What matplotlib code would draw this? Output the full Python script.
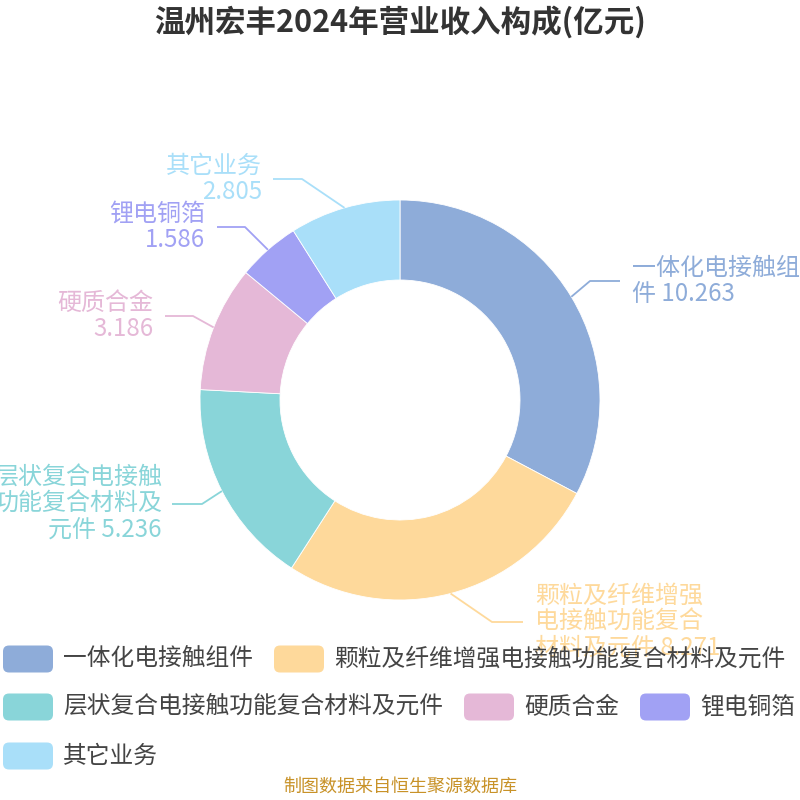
import matplotlib
matplotlib.use("Agg")
import matplotlib.pyplot as plt
from matplotlib.patches import FancyBboxPatch
import numpy as np

plt.rcParams['font.family'] = ['Noto Sans CJK SC', 'DejaVu Sans']

title = "温州宏丰2024年营业收入构成(亿元)"
source = "制图数据来自恒生聚源数据库"
categories = ["一体化电接触组件", "颗粒及纤维增强电接触功能复合材料及元件",
              "层状复合电接触功能复合材料及元件", "硬质合金", "锂电铜箔", "其它业务"]
values = [10.263, 8.271, 5.236, 3.186, 1.586, 2.805]
colors = ["#8EACD9", "#FED99B", "#89D5D9", "#E5B8D7", "#A1A1F4", "#A9DFF9"]

# label layout (pixel coords, y measured from top): elbow point, line end x, text anchor x, side
label_layout = [
    ((590, 281), 620, 632, 'left'),
    ((492, 622), 523, 535, 'left'),
    ((202, 504), 172, 162, 'right'),
    ((193, 316), 165, 153, 'right'),
    ((245, 227), 217, 205, 'right'),
    ((302, 179), 273, 262, 'right'),
]

W = H = 800
fig = plt.figure(figsize=(8, 8), dpi=100)
ax = fig.add_axes([0, 0, 1, 1])
ax.set_xlim(0, W)
ax.set_ylim(0, H)
ax.set_aspect('equal')
ax.axis('off')

def Y(y):
    return H - y

cx, cy, R, ring = 400, 400, 200, 80
wedges, _ = ax.pie(values, colors=colors, startangle=90, counterclock=False,
                   center=(cx, Y(cy)), radius=R,
                   wedgeprops=dict(width=ring, edgecolor='white', linewidth=0.6))
ax.set_xlim(0, W)
ax.set_ylim(0, H)

def wrap_label(name, val):
    if len(name) <= 4:
        return name + "\n" + f"{val:g}"
    s = name + " " + f"{val:g}"
    lines = []
    while len(s) > 7 and len(name) > 7:
        lines.append(s[:7])
        s = s[7:]
        name = name[7:]
    lines.append(s)
    return "\n".join(lines)

label_fs = 17.3
for w, name, val, col, (elbow, lend, tx, side) in zip(wedges, categories, values, colors, label_layout):
    ang = np.deg2rad((w.theta1 + w.theta2) / 2)
    px, py = cx + R * np.cos(ang), Y(cy) + R * np.sin(ang)
    ex, ey = elbow[0], Y(elbow[1])
    ax.plot([px, ex, lend], [py, ey, ey], color=col, lw=1.3, solid_capstyle='butt')
    ax.text(tx, ey, wrap_label(name, val), color=col, fontsize=label_fs,
            ha=side, va='center', multialignment=side, linespacing=1.0)

fig.text(0.5, 1 - 22 / H, title, ha='center', va='center', fontsize=22,
         fontweight='bold', color='#333333')
fig.text(0.5, 1 - 787 / H, source, ha='center', va='center', fontsize=13, color='#C89228')

# legend (flow layout)
fig.canvas.draw()
renderer = fig.canvas.get_renderer()
leg_fs = 17.1
pw, ph, gap_t, gap_i = 50, 27, 10, 21
row_y = [659, 707, 756]
x = 3
row = 0
for name, col in zip(categories, colors):
    t = ax.text(0, 0, name, fontsize=leg_fs)
    tw = t.get_window_extent(renderer).width
    t.remove()
    if x + pw + gap_t + tw > W + 2:
        row += 1
        x = 3
    yc = row_y[row]
    ax.add_patch(FancyBboxPatch((x, Y(yc) - ph / 2), pw, ph,
                                boxstyle="round,pad=0,rounding_size=6",
                                facecolor=col, edgecolor='none'))
    ax.text(x + pw + gap_t, Y(yc), name, fontsize=leg_fs, color='#444444',
            ha='left', va='center')
    x += pw + gap_t + tw + gap_i

fig.savefig("out.png", dpi=100)
